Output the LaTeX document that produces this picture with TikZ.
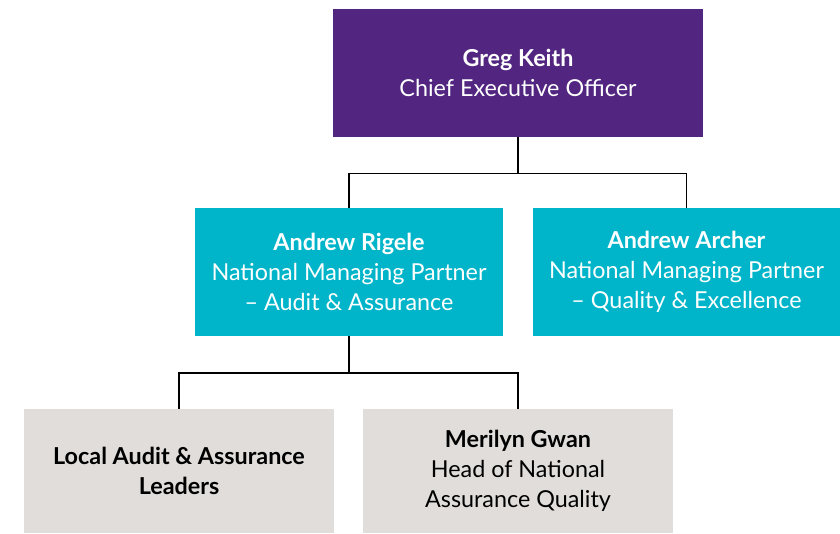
\documentclass[tikz,border=0pt]{standalone}
\usepackage{fontspec}
\setmainfont{Lato}
\usepackage{tikz}
\usetikzlibrary{positioning}

\definecolor{gtpurple}{HTML}{512580}
\definecolor{gtteal}{HTML}{00B5C9}
\definecolor{gtgrey}{HTML}{E0DDDA}

\begin{document}
\begin{tikzpicture}[x=0.75pt, y=-0.75pt,
    box/.style={inner sep=0pt, align=center, font=\fontsize{17.5}{22.4}\selectfont},
    topbox/.style={box, fill=gtpurple, text=white, minimum width=277.5pt, minimum height=96pt},
    midbox/.style={box, fill=gtteal, text=white, minimum width=231pt, minimum height=96pt},
    lowbox/.style={box, fill=gtgrey, text=black, minimum width=232pt, minimum height=93pt},
    link/.style={line width=1.1pt, black}]
    \useasboundingbox (0,0) rectangle (840,533);

    % Top level
    \node[topbox] (ceo) at (518, 72.5) {\textbf{Greg Keith}\\Chief Executive Officer};

    % Partners
    \node[midbox] (rigele) at (349, 272) {\textbf{Andrew Rigele}\\National Managing Partner\\-- Audit \& Assurance};
    \node[midbox, minimum width=230pt] (archer) at (686.5, 272) {\textbf{Andrew Archer}\\National Managing Partner\\-- Quality \& Excellence};

    % Under audit
    \node[lowbox] (local) at (179, 471) {\textbf{Local Audit \& Assurance}\\\textbf{Leaders}};
    \node[lowbox] (gwan) at (518, 471) {\textbf{Merilyn Gwan}\\Head of National\\Assurance Quality};

    % Connectors
    \draw[link] (ceo.south) -- ++(0,36.5) coordinate (ceojoin);
    \draw[link] (rigele.north) |- (ceojoin) -| (archer.north);
    \draw[link] (rigele.south) -- ++(0,36.5) coordinate (rigjoin);
    \draw[link] (local.north) |- (rigjoin) -| (gwan.north);
\end{tikzpicture}
\end{document}
